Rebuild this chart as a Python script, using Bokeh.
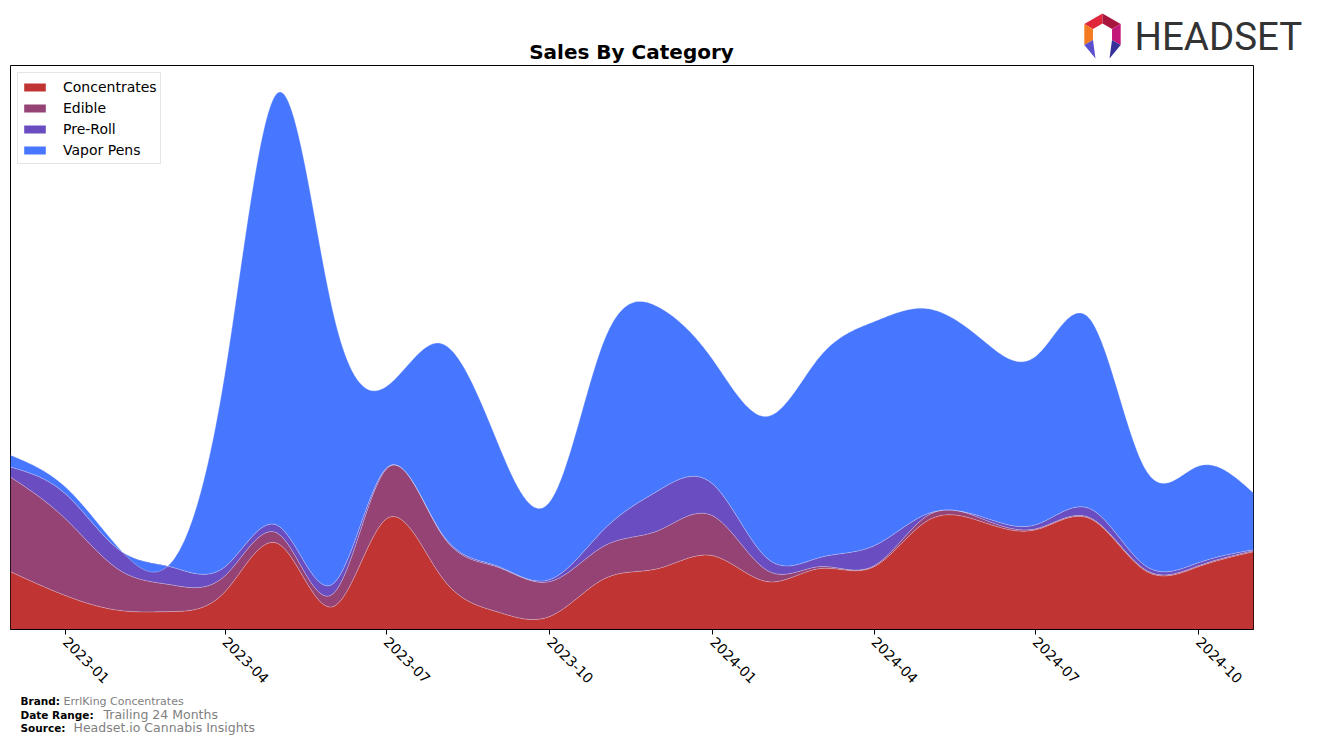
import math
import numpy as np
import pandas as pd
from bokeh.plotting import figure
from bokeh.layouts import column
from bokeh.models import (Range1d, FixedTicker, DatetimeTickFormatter, Legend, LegendItem)
from bokeh.core.properties import value
from bokeh.embed import file_html
from bokeh.resources import INLINE

# ---------------- data ----------------
months = pd.date_range("2022-12-01", "2024-11-01", freq="MS")
categories = ["Concentrates", "Edible", "Pre-Roll", "Vapor Pens"]
concentrates = [58, 34, 19, 18, 38, 86, 23, 111, 53, 18, 13, 51, 61, 74, 48, 61, 63, 109, 108, 100, 111, 59, 63, 78]
edible = [95, 77, 40, 27, 16, 10, 13, 50, 43, 45, 35, 33, 38, 40, 11, 2, 1, 5, 3, 1, 1, 1, 1, 1]
pre_roll = [10, 25, 20, 18, 9, 8, 10, 1, 1, 1, 2, 17, 40, 32, 12, 9, 20, 2, 2, 4, 9, 4, 3, 1]
vapor_pens = [12, 7, 1, 3, 195, 435, 272, 82, 190, 127, 78, 190, 185, 125, 143, 201, 225, 206, 178, 169, 190, 97, 97, 57]
colors = ["#c13434", "#954275", "#6a4dc0", "#4877ff"]
tick_dates = ["2023-01-01", "2023-04-01", "2023-07-01", "2023-10-01",
              "2024-01-01", "2024-04-01", "2024-07-01", "2024-10-01"]
title_text = "Sales By Category"
footer_keys = ["Brand:", "Date Range:", "Source:"]
footer_vals = ["ErrlKing Concentrates", "Trailing 24 Months", "Headset.io Cannabis Insights"]


def natural_spline(x, y, xs):
    x = np.asarray(x, float); y = np.asarray(y, float)
    n = len(x); h = np.diff(x)
    A = np.zeros((n, n)); b = np.zeros(n)
    A[0, 0] = 1; A[-1, -1] = 1
    for i in range(1, n - 1):
        A[i, i - 1] = h[i - 1]; A[i, i] = 2 * (h[i - 1] + h[i]); A[i, i + 1] = h[i]
        b[i] = 3 * ((y[i + 1] - y[i]) / h[i] - (y[i] - y[i - 1]) / h[i - 1])
    c = np.linalg.solve(A, b)
    bb = (y[1:] - y[:-1]) / h - h * (2 * c[:-1] + c[1:]) / 3
    d = (c[1:] - c[:-1]) / (3 * h)
    idx = np.clip(np.searchsorted(x, xs) - 1, 0, n - 2)
    t = xs - x[idx]
    return y[idx] + bb[idx] * t + c[idx] * t ** 2 + d[idx] * t ** 3


x_ms = months.values.astype("datetime64[ms]").astype(np.int64).astype(float)
xs = np.linspace(x_ms[0], x_ms[-1], 900)
series = [concentrates, edible, pre_roll, vapor_pens]
cum = np.cumsum(np.array(series, float), axis=0)
smooth = [natural_spline(x_ms, cum[i], xs) for i in range(4)]

W = 1317


def deco_fig(h, y0):
    f = figure(width=W, height=h, output_backend="svg", toolbar_location=None,
               x_range=Range1d(0, W), y_range=Range1d(y0 + h, y0),
               min_border=0, min_border_left=0, min_border_right=0,
               min_border_top=0, min_border_bottom=0, frame_align=False)
    f.axis.visible = False
    f.grid.visible = False
    f.outline_line_color = None
    f.background_fill_color = "white"
    f.border_fill_color = "white"
    return f


# ---------------- header ----------------
head = deco_fig(64, 0)
head.text(x=[631], y=[51], text=[title_text], text_font=value("DejaVu Sans"),
          text_font_style="bold", text_font_size="20px", text_align="center",
          text_baseline="middle", text_color="black")
head.text(x=[1134], y=[36], text=["HEADSET"], text_font=value("Roboto"),
          text_font_size="38.5px", text_align="left", text_baseline="middle",
          text_color="#333333")
cx, cy, R, r_in = 1102, 34, 21, 11


def pt(rad, ang):
    a = math.radians(ang)
    return (cx + rad * math.cos(a), cy - rad * math.sin(a))


segs = [((90, 150), "#e0263a"), ((30, 90), "#a8163e"), ((-30, 30), "#c4177a"),
        ((150, 210), "#f47b20")]
pxs, pys, pcs = [], [], []
for (a0, a1), col in segs:
    pts = [pt(R, a0), pt(R, a1), pt(r_in, a1), pt(r_in, a0)]
    pxs.append([q[0] for q in pts]); pys.append([q[1] for q in pts]); pcs.append(col)
for pts, col in [([pt(R, 210), pt(r_in, 210), (cx - 7, cy + 24)], "#5a4fcf"),
                 ([pt(R, -30), pt(r_in, -30), (cx + 7, cy + 24)], "#35309a")]:
    pxs.append([q[0] for q in pts]); pys.append([q[1] for q in pts]); pcs.append(col)
head.patches(xs=pxs, ys=pys, fill_color=pcs, line_color=None)

# ---------------- main chart ----------------
p = figure(width=W, height=626, x_axis_type="datetime", output_backend="svg",
           toolbar_location=None, title=None,
           x_range=Range1d(x_ms[0], x_ms[-1]), y_range=Range1d(0, 566),
           min_border_left=10, min_border_right=W - 1253, min_border_top=1,
           min_border_bottom=59, frame_align=False)
p.background_fill_color = "white"
p.border_fill_color = "white"
p.outline_line_color = "black"
p.outline_line_width = 1
p.xgrid.visible = False
p.ygrid.visible = False
p.yaxis.visible = False

items = []
lower = np.zeros_like(xs)
for i, name in enumerate(categories):
    upper = smooth[i]
    r = p.varea(x=xs, y1=lower, y2=upper, fill_color=colors[i], fill_alpha=1.0)
    items.append(LegendItem(label=name, renderers=[r]))
    lower = upper
for i in range(4):
    p.line(x=xs, y=smooth[i], line_color="white", line_alpha=0.3, line_width=1)

tick_ms = [pd.Timestamp(d).value / 1e6 for d in tick_dates]
p.xaxis.ticker = FixedTicker(ticks=tick_ms)
fmt = "%Y-%m"
p.xaxis.formatter = DatetimeTickFormatter(milliseconds=fmt, seconds=fmt, minsec=fmt,
                                          minutes=fmt, hourmin=fmt, hours=fmt, days=fmt,
                                          months=fmt, years=fmt)
p.xaxis.major_label_orientation = -math.pi / 4
p.xaxis.major_label_text_font = "DejaVu Sans"
p.xaxis.major_label_text_font_size = "14px"
p.xaxis.major_label_text_color = "black"
p.xaxis.major_tick_out = 5
p.xaxis.major_tick_in = 0
p.xaxis.minor_tick_out = 0
p.xaxis.minor_tick_in = 0
p.xaxis.axis_line_color = "black"
p.xaxis.major_tick_line_color = "black"
p.xaxis.major_label_standoff = 5

legend = Legend(items=items, location="top_left", margin=7, padding=3, spacing=0,
                glyph_width=27, glyph_height=10, label_height=21, label_standoff=15,
                label_text_font="DejaVu Sans", label_text_font_size="14px",
                label_text_color="black",
                border_line_color="#cccccc", border_line_width=1,
                background_fill_color="white", background_fill_alpha=0.8)
p.add_layout(legend)

# ---------------- footer ----------------
foot = deco_fig(743 - 690, 690)
key_x = [20, 20, 20]
key_y = [700.5, 714, 727]
val_x = [63, 103, 73]
val_size = ["11px", "12.5px", "12.5px"]
foot.text(x=key_x, y=key_y, text=footer_keys, text_font=value("DejaVu Sans"),
          text_font_style="bold", text_font_size="10.5px", text_baseline="middle",
          text_color="black")
for i in range(3):
    foot.text(x=[val_x[i]], y=[key_y[i]], text=[footer_vals[i]], text_font=value("DejaVu Sans"),
              text_font_size=val_size[i], text_baseline="middle", text_color="#808080")

layout = column(head, p, foot, spacing=0)
open("out.html", "w").write(file_html(layout, INLINE))
